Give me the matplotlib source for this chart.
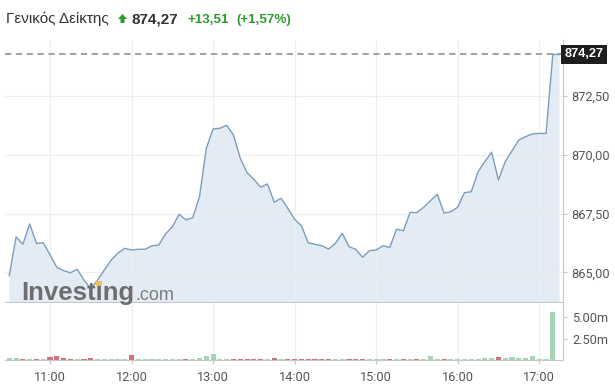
import matplotlib
matplotlib.use("Agg")
import matplotlib.pyplot as plt
import matplotlib.transforms as mtransforms
import numpy as np
from matplotlib.patches import Polygon, Rectangle
from matplotlib.ticker import FuncFormatter

# 5-minute prices from 10:30
prices = [
    864.86, 866.51, 866.19, 867.06, 866.23, 866.26, 865.74, 865.21, 865.07, 864.98,
    865.13, 864.67, 864.29, 864.67, 865.10, 865.52, 865.82, 866.02, 865.95, 865.98,
    865.98, 866.13, 866.16, 866.63, 866.94, 867.47, 867.23, 867.32, 868.22, 870.28,
    871.10, 871.13, 871.26, 870.84, 869.85, 869.24, 868.96, 868.62, 868.76, 867.98,
    868.15, 867.72, 867.26, 866.98, 866.25, 866.19, 866.13, 865.99, 866.23, 866.66,
    866.09, 865.98, 865.64, 865.92, 865.95, 866.13, 866.06, 866.83, 866.77, 867.55,
    867.54, 867.77, 868.05, 868.32, 867.52, 867.58, 867.77, 868.39, 868.43, 869.28,
    869.71, 870.11, 868.93, 869.71, 870.17, 870.63, 870.77, 870.89, 870.91, 870.91,
    874.27, 874.27,
]
# volume in millions
volumes = [
    0.25, 0.25, 0.15, 0.08, 0.08, 0.08, 0.35, 0.45, 0.18, 0.10,
    0.10, 0.10, 0.18, 0.08, 0.08, 0.08, 0.08, 0.08, 0.60, 0.12,
    0.12, 0.06, 0.06, 0.08, 0.08, 0.10, 0.10, 0.15, 0.20, 0.45,
    0.65, 0.08, 0.08, 0.08, 0.08, 0.08, 0.08, 0.08, 0.08, 0.20,
    0.08, 0.08, 0.08, 0.08, 0.08, 0.08, 0.08, 0.08, 0.08, 0.08,
    0.08, 0.08, 0.08, 0.08, 0.08, 0.08, 0.08, 0.08, 0.08, 0.08,
    0.08, 0.08, 0.50, 0.08, 0.08, 0.08, 0.08, 0.08, 0.08, 0.10,
    0.20, 0.20, 0.35, 0.20, 0.30, 0.20, 0.20, 0.45, 0.06, 0.06,
    5.60, 0.0,
]
start_hour = 10.5
step_min = 5
hour_ticks = [11, 12, 13, 14, 15, 16, 17]
price_ticks = [865.0, 867.5, 870.0, 872.5]
vol_ticks = [2.5, 5.0]
last_price = 874.27
title_name = "Γενικός Δείκτης"
change_abs = "+13,51"
change_pct = "(+1,57%)"

W, H = 615, 392
GREEN = "#2b9b2b"
GRID = "#eeeeee"
SPINE = "#c8c8c8"
TICK = "#555555"


def rect(left, top, right, bottom):
    return [left / W, 1 - bottom / H, (right - left) / W, (bottom - top) / H]


def fmt_price(v):
    return "{:.2f}".format(v).replace(".", ",")


t = start_hour + np.arange(len(prices)) * step_min / 60
xmin = start_hour - 0.63 * step_min / 60
xmax = start_hour + 81.5 * step_min / 60

fig = plt.figure(figsize=(W / 100, H / 100), dpi=100)
ax = fig.add_axes(rect(5, 40, 563, 302))
axv = fig.add_axes(rect(5, 303, 563, 360))

# price panel
ax.fill_between(t, prices, 800, color="#e3ecf5", lw=0, zorder=1)
ax.plot(t, prices, color="#7f9dbb", lw=1.0, zorder=2)
ax.axhline(last_price, color="#9a9a9a", lw=1.3, ls=(0, (3.5, 2.5)), zorder=3)
ax.set_xlim(xmin, xmax)
ax.set_ylim(863.736, 874.885)
ax.set_yticks(price_ticks)
ax.yaxis.set_major_formatter(FuncFormatter(lambda v, p: fmt_price(v)))
ax.set_xticks(hour_ticks)
ax.tick_params(axis="x", length=0, labelbottom=False)
ax.yaxis.tick_right()
ax.tick_params(axis="y", length=3, color=SPINE, labelcolor=TICK, pad=3,
               labelsize=9.2, labelfontfamily="Roboto")
ax.grid(True, color=GRID, lw=0.8, zorder=0)
for s in ["top", "left"]:
    ax.spines[s].set_visible(False)
ax.spines["right"].set_color(SPINE)
ax.spines["bottom"].set_color(SPINE)

trans = mtransforms.blended_transform_factory(ax.transAxes, ax.transData)
ax.text(1.003, last_price, fmt_price(last_price), transform=trans, color="white",
        fontsize=9.2, fontweight="bold", family="Liberation Sans", va="center", ha="left",
        bbox=dict(boxstyle="square,pad=0.25", fc="#1e1e1e", ec="none"), zorder=5)

# volume panel
colors = ["#a8d5b7" if i == 0 or prices[i] >= prices[i - 1] else "#d27079"
          for i in range(len(prices))]
axv.bar(t, volumes, width=0.75 * step_min / 60, color=colors, zorder=2)
axv.set_xlim(xmin, xmax)
axv.set_ylim(0, 6.7)
axv.set_xticks(hour_ticks)
axv.set_xticklabels(["{}:00".format(h) for h in hour_ticks])
axv.set_yticks(vol_ticks)
axv.set_yticklabels(["{:.2f}m".format(v) for v in vol_ticks])
axv.yaxis.tick_right()
axv.tick_params(axis="both", length=3, color=SPINE, labelcolor=TICK,
                labelsize=9.2, labelfontfamily="Roboto")
axv.tick_params(axis="x", pad=5)
axv.grid(True, axis="x", color=GRID, lw=0.8, zorder=0)
for s in ["top", "left"]:
    axv.spines[s].set_visible(False)
axv.spines["right"].set_color(SPINE)
axv.spines["bottom"].set_color(SPINE)


# header
def ftext(x, y, s, family="Liberation Sans", **kw):
    return fig.text(x / W, 1 - y / H, s, va="baseline", family=family, **kw)


def px(x, y):
    return (x / W, 1 - y / H)


ftext(6, 23, title_name, fontsize=11, color="#333333")
arrow = [px(118, 19), px(122.5, 14), px(127, 19), px(124.5, 19),
         px(124.5, 23), px(120.5, 23), px(120.5, 19)]
fig.add_artist(Polygon(arrow, closed=True, transform=fig.transFigure,
                       color=GREEN, lw=0))
ftext(132, 23, fmt_price(last_price), fontsize=11, fontweight="bold", color="#333333")
ftext(188, 23, change_abs, fontsize=9.6, fontweight="bold", color=GREEN)
ftext(236, 23, change_pct, fontsize=9.6, fontweight="bold", color=GREEN)

# watermark
logo = ftext(21, 300, "Investing", fontsize=18.5, fontweight="bold", color="#6e6e6e", zorder=6)
fig.canvas.draw()
r = fig.canvas.get_renderer()
bb = logo.get_window_extent(r)
ftext(bb.x1 + 1, 300, ".com", fontsize=13, color="#7d7d7d", zorder=6)
probe = ftext(21, 300, "Invest", fontsize=18.5, fontweight="bold", alpha=0)
pb = probe.get_window_extent(r)
probe.remove()
iw = 0.278 * 18.5 * 100 / 72
fig.add_artist(Rectangle(((pb.x1 + 0.1 * iw) / W, (H - 286) / H), 0.8 * iw / W, 5.5 / H,
                         transform=fig.transFigure, color="#f0c060", lw=0, zorder=7))

fig.savefig("out.png", dpi=100)
